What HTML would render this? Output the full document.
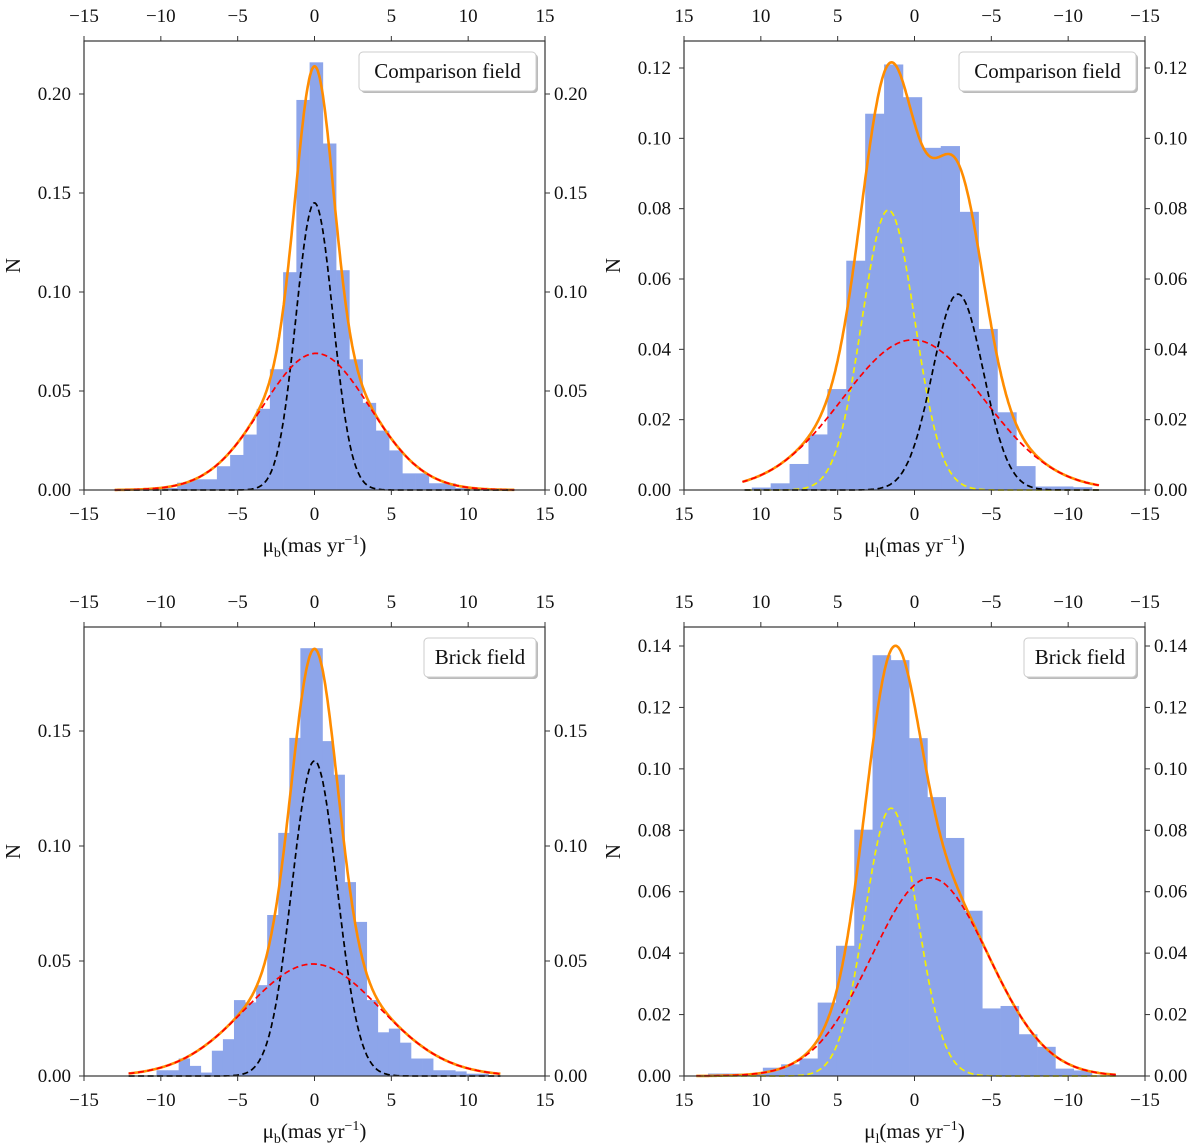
<!DOCTYPE html>
<html><head><meta charset="utf-8"><style>
body{margin:0;background:#fff;}
svg{display:block;font-family:"Liberation Serif","DejaVu Serif",serif;}
</style></head><body>
<svg id="fig" width="1200" height="1146" viewBox="0 0 1200 1146" xmlns="http://www.w3.org/2000/svg"></svg>
<script>
// ---------- data ----------
const xTickLabels = [-15,-10,-5,0,5,10,15];
const p1YTicks = [0,0.05,0.10,0.15,0.20];
const p2YTicks = [0,0.02,0.04,0.06,0.08,0.10,0.12];
const p3YTicks = [0,0.05,0.10,0.15];
const p4YTicks = [0,0.02,0.04,0.06,0.08,0.10,0.12,0.14];

// panel 1: comparison field, mu_b
const p1BinStart = -9.8; const p1BinWidth = 0.862;
const p1Counts = [0.001,0.0037,0.0054,0.0054,0.012,0.0177,0.028,0.041,0.061,0.110,0.197,0.216,0.175,0.111,0.066,0.044,0.030,0.020,0.0084,0.0084,0.0034,0.0034,0.001];
const p1Gauss = {black:[0.145,0.0,1.2], red:[0.069,0.1,3.5]};
// panel 2: comparison field, mu_l
const p2BinStart = -11.55; const p2BinWidth = 1.23;
const p2Counts = [0.0008,0.001,0.001,0.0068,0.0221,0.0458,0.0791,0.0978,0.0973,0.1117,0.121,0.107,0.0652,0.0287,0.0158,0.0074,0.0019,0.0007];
const p2Gauss = {yellow:[0.0796,1.7,1.72], red:[0.0427,0.1,4.6], black:[0.0557,-2.83,1.65]};
// panel 3: brick field, mu_b
const p3BinStart = -10.28; const p3BinWidth = 0.72;
const p3Counts = [0.0025,0.0025,0.0076,0.0044,0.0015,0.011,0.016,0.033,0.032,0.0395,0.070,0.1057,0.147,0.186,0.186,0.1456,0.131,0.0843,0.067,0.033,0.019,0.0206,0.0145,0.0076,0.0076,0.0025,0.0025,0.002,0.001,0.001];
const p3Gauss = {black:[0.137,0.0,1.46], red:[0.0487,-0.1,4.35]};
// panel 4: brick field, mu_l
const p4BinStart = -11.55; const p4BinWidth = 1.19;
const p4Counts = [0.0018,0.0024,0.0095,0.0136,0.0228,0.022,0.0538,0.0775,0.0908,0.110,0.1354,0.137,0.0802,0.0424,0.0239,0.0057,0.0038,0.0027,0.0008,0.0008,0.0008];
const p4Gauss = {yellow:[0.0872,1.52,1.7], red:[0.0645,-1.02,3.8]};

const NS = "http://www.w3.org/2000/svg";
const svg = document.getElementById('fig');
function el(tag, attrs, parent){ const e=document.createElementNS(NS,tag); for(const k in attrs) e.setAttribute(k,attrs[k]); (parent||svg).appendChild(e); return e; }
function fmt(v,d){ const s=Math.abs(v).toFixed(d); return (v<0?"\u2212":"")+s; }

const colors = {black:"#000", red:"#ff0000", yellow:"#f4f000"};

function panel(o){
  const g = el('g',{});
  
  
  const L=o.L,R=o.L+461,T=o.T,B=o.B;
  const xs = v => o.rev ? L+(15-v)/30*(R-L) : L+(v+15)/30*(R-L);
  const ys = v => B - v/o.ymax*(B-o.ymaxPx);
  o.counts.forEach((c,i)=>{
    const a=o.binStart+i*o.binWidth, b=a+o.binWidth;
    const x1=Math.min(xs(a),xs(b)), x2=Math.max(xs(a),xs(b));
    const r=el('rect',{x:x1,y:ys(c),width:x2-x1+0.3,height:B-ys(c),fill:"#8da5ea"},g);
    
    
  });
  const gauss = (p,x)=>p[0]*Math.exp(-((x-p[1])**2)/(2*p[2]*p[2]));
  const keys = Object.keys(o.gauss);
  function path(fn){ let d=""; for(let x=o.cmin;x<=o.cmax+1e-9;x+=0.05){ d+=(d?"L":"M")+xs(x).toFixed(1)+","+ys(fn(x)).toFixed(1);} return d; }
  const tot = el('path',{d:path(x=>keys.reduce((s,k)=>s+gauss(o.gauss[k],x),0)),fill:"none",stroke:"#ff8c00","stroke-width":2.6},g);
  
  
  keys.forEach(k=>{
    const p=el('path',{d:path(x=>gauss(o.gauss[k],x)),fill:"none",stroke:colors[k],"stroke-width":1.7,"stroke-dasharray":"6,3.5"},g);
    
    
  });
  const f=el('rect',{x:L,y:T,width:R-L,height:B-T,fill:"none",stroke:"#333","stroke-width":1.2},g);
  
  
  xTickLabels.forEach(v=>{
    const x=xs(v);
    el('line',{x1:x,y1:B,x2:x,y2:B+5,stroke:"#333"},g);
    el('line',{x1:x,y1:T,x2:x,y2:T-5,stroke:"#333"},g);
    const tb=el('text',{x:x,y:B+30,"text-anchor":"middle","font-size":19,fill:"#111"},g);
    tb.textContent=fmt(v,0);
    
    
    const tt=el('text',{x:x,y:T-19,"text-anchor":"middle","font-size":19,fill:"#111"},g);
    tt.textContent=fmt(v,0);
    
    
  });
  o.yticks.forEach(v=>{
    const y=ys(v);
    el('line',{x1:L,y1:y,x2:L-5,y2:y,stroke:"#333"},g);
    el('line',{x1:R,y1:y,x2:R+5,y2:y,stroke:"#333"},g);
    const tl=el('text',{x:L-13,y:y+6,"text-anchor":"end","font-size":19,fill:"#111"},g);
    tl.textContent=v.toFixed(2);
    
    
    const tr=el('text',{x:R+9,y:y+6,"text-anchor":"start","font-size":19,fill:"#111"},g);
    tr.textContent=v.toFixed(2);
    
    
  });
  const xl=el('text',{x:(L+R)/2,y:B+62,"text-anchor":"middle","font-size":21,fill:"#111"},g);
  
  
  xl.innerHTML = '\u03bc<tspan font-size="14" dy="5">'+o.sub+'</tspan><tspan dy="-5">(mas yr</tspan><tspan font-size="14" dy="-8">\u22121</tspan><tspan dy="8">)</tspan>';
  const yl=el('text',{x:0,y:0,"text-anchor":"middle","font-size":21,fill:"#111",transform:"translate("+(L-64)+","+((T+B)/2)+") rotate(-90)"},g);
  yl.textContent="N";
  
  
  const lw=o.legendW, lx=R-9-lw, ly=T+11;
  el('rect',{x:lx+2,y:ly+2,width:lw,height:39,rx:4,fill:"#bbb"},g);
  const lb=el('rect',{x:lx,y:ly,width:lw,height:39,rx:4,fill:"#fff",stroke:"#ccc"},g);
  
  
  const lt=el('text',{x:lx+lw/2,y:ly+26,"text-anchor":"middle","font-size":21,fill:"#111"},g);
  lt.textContent=o.legend;
  
  
}

panel({name:'comparison-mub-panel',L:84,T:41,B:490,ymax:0.20,ymaxPx:94,rev:false,sub:'b',
  binStart:p1BinStart,binWidth:p1BinWidth,counts:p1Counts,gauss:p1Gauss,cmin:-13,cmax:13,yticks:p1YTicks,legend:'Comparison field',legendW:177});
panel({name:'comparison-mul-panel',L:684,T:41,B:490,ymax:0.12,ymaxPx:68,rev:true,sub:'l',
  binStart:p2BinStart,binWidth:p2BinWidth,counts:p2Counts,gauss:p2Gauss,cmin:-12,cmax:11.2,yticks:p2YTicks,legend:'Comparison field',legendW:177});
panel({name:'brick-mub-panel',L:84,T:627,B:1076,ymax:0.15,ymaxPx:731,rev:false,sub:'b',
  binStart:p3BinStart,binWidth:p3BinWidth,counts:p3Counts,gauss:p3Gauss,cmin:-12.1,cmax:12.1,yticks:p3YTicks,legend:'Brick field',legendW:112});
panel({name:'brick-mul-panel',L:684,T:627,B:1076,ymax:0.14,ymaxPx:646,rev:true,sub:'l',
  binStart:p4BinStart,binWidth:p4BinWidth,counts:p4Counts,gauss:p4Gauss,cmin:-13.1,cmax:14.2,yticks:p4YTicks,legend:'Brick field',legendW:112});
</script>
</body></html>
